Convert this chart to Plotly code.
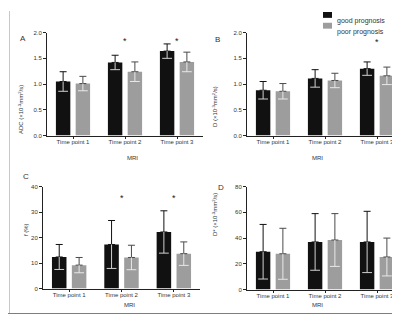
import plotly.graph_objects as go

# ---------------- data ----------------
categories = ["Time point 1", "Time point 2", "Time point 3"]
series_names = ["good prognosis", "poor prognosis"]

adc_good = [1.05, 1.42, 1.64]
adc_good_sd = [0.19, 0.14, 0.14]
adc_poor = [1.01, 1.24, 1.43]
adc_poor_sd = [0.14, 0.19, 0.19]

d_good = [0.88, 1.11, 1.30]
d_good_sd = [0.17, 0.17, 0.13]
d_poor = [0.86, 1.07, 1.16]
d_poor_sd = [0.15, 0.14, 0.17]

f_good = [12.4, 17.3, 22.2]
f_good_sd = [4.9, 9.4, 8.3]
f_poor = [9.2, 12.2, 13.7]
f_poor_sd = [3.0, 4.8, 4.6]

dstar_good = [29.4, 37.0, 37.0]
dstar_good_sd = [21.2, 22.0, 23.8]
dstar_poor = [27.8, 38.5, 25.3]
dstar_poor_sd = [19.8, 20.5, 14.7]

sig_adc = ["", "*", "*"]
sig_d = ["", "", "*"]
sig_f = ["", "*", "*"]
sig_dstar = ["", "", ""]

panel_letters = ["A", "B", "C", "D"]
y_titles = [
    "ADC (×10<sup>-3</sup>mm<sup>2</sup>/s)",
    "D (×10<sup>-3</sup>mm<sup>2</sup>/s)",
    "f (%)",
    "D* (×10<sup>-3</sup>mm<sup>2</sup>/s)",
]
y_ranges = [[0, 2.0], [0, 2.0], [0, 40], [0, 80]]
y_dticks = [0.5, 0.5, 10, 20]
y_formats = [".1f", ".1f", "d", "d"]
sig_levels = [1.83, 1.81, 35.5, 70]
x_title = "MRI"

# ---------------- layout helpers ----------------
W, H = 400, 314
def px(x):
    return x / W
def py(y):
    return 1 - y / H

# pixel boxes: (left, right, top, bottom)
boxes = [(39, 195, 22, 127), (239, 395, 22, 127), (35, 192, 179, 283), (239, 395, 179, 284)]
letter_pos = [(10, 21), (209, 22), (13, 169), (213, 180)]
ytitle_pos = [(7, 74), (207, 74), (13, 232), (207, 231)]
mri_y = [150, 150, 305, 305]

good_col = "#111111"
poor_col = "#9d9d9d"
font_fam = "Liberation Sans, Arial, sans-serif"
txt_col = "#333333"

panels = [
    (adc_good, adc_good_sd, adc_poor, adc_poor_sd, sig_adc),
    (d_good, d_good_sd, d_poor, d_poor_sd, sig_d),
    (f_good, f_good_sd, f_poor, f_poor_sd, sig_f),
    (dstar_good, dstar_good_sd, dstar_poor, dstar_poor_sd, sig_dstar),
]

fig = go.Figure()
annotations = []
shapes = []

for i, (g, gsd, p, psd, sig) in enumerate(panels):
    sfx = "" if i == 0 else str(i + 1)
    xa, ya = "x" + sfx, "y" + sfx
    for name, vals, sd, col, ecol, lcol in [
        (series_names[0], g, gsd, good_col, "#111111", "#d0d0d0"),
        (series_names[1], p, psd, poor_col, "#4a4a4a", "#e8e8e8"),
    ]:
        fig.add_trace(go.Bar(
            x=categories, y=vals, name=name, xaxis=xa, yaxis=ya,
            marker=dict(color=col, line=dict(width=0)),
            offsetgroup=name, alignmentgroup=str(i),
            error_y=dict(type="data", symmetric=False, array=sd,
                         arrayminus=[0] * len(sd), color=ecol,
                         thickness=1, width=3.5),
            showlegend=False,
        ))
        low = [v - s for v, s in zip(vals, sd)]
        fig.add_trace(go.Scatter(
            x=categories, y=low, xaxis=xa, yaxis=ya, mode="markers",
            offsetgroup=name, alignmentgroup=str(i),
            marker=dict(symbol="line-ew", size=7, color=lcol,
                        line=dict(color=lcol, width=1)),
            error_y=dict(type="data", symmetric=False,
                         array=[v - l for v, l in zip(vals, low)],
                         arrayminus=[0] * len(sd), color=lcol,
                         thickness=1, width=0),
            showlegend=False, hoverinfo="skip",
        ))
    for c, s in zip(categories, sig):
        if s:
            annotations.append(dict(x=c, y=sig_levels[i], xref=xa, yref=ya, text=s,
                                    showarrow=False, font=dict(size=9, color="#222222"),
                                    yanchor="middle"))
    l, r, t, b = boxes[i]
    key = "" if i == 0 else str(i + 1)
    fig.layout["xaxis" + key] = dict(
        domain=[px(l), px(r)], anchor=ya, type="category", range=[-0.5, 2.5],
        showline=True, linecolor="#222", linewidth=1, ticks="outside", ticklen=2,
        tickcolor="#222", tickfont=dict(size=6, color=txt_col, family=font_fam),
        ticklabelstandoff=-2,
        showgrid=False, zeroline=False, fixedrange=True,
    )
    fig.layout["yaxis" + key] = dict(
        domain=[py(b), py(t)], anchor=xa, range=y_ranges[i], dtick=y_dticks[i],
        tick0=0, tickformat=y_formats[i],
        showline=True, linecolor="#222", linewidth=1, ticks="outside", ticklen=3,
        tickcolor="#222", tickfont=dict(size=6, color=txt_col, family=font_fam),
        showgrid=False, zeroline=False, fixedrange=True,
    )
    lx, ly = letter_pos[i]
    annotations.append(dict(x=px(lx), y=py(ly), xref="paper", yref="paper",
                            text=panel_letters[i], showarrow=False,
                            font=dict(size=8, color=txt_col, family=font_fam)))
    tx, ty = ytitle_pos[i]
    annotations.append(dict(x=px(tx), y=py(ty), xref="paper", yref="paper",
                            text=y_titles[i], textangle=-90, showarrow=False,
                            font=dict(size=6, color=txt_col, family=font_fam)))
    annotations.append(dict(x=px((l + r) / 2), y=py(mri_y[i]), xref="paper", yref="paper",
                            text=x_title, showarrow=False,
                            font=dict(size=6, color=txt_col, family=font_fam)))

# manual legend
leg_rows = [(series_names[0], good_col, 4), (series_names[1], poor_col, 15)]
for name, col, yy in leg_rows:
    shapes.append(dict(type="rect", xref="paper", yref="paper",
                       x0=px(315), x1=px(324), y0=py(yy + 3), y1=py(yy - 3),
                       fillcolor=col, line=dict(width=0)))
    annotations.append(dict(x=px(327), y=py(yy), xref="paper", yref="paper",
                            text=name, showarrow=False, xanchor="left",
                            font=dict(size=7, color=txt_col, family=font_fam)))

# frame artifacts from the scanned figure
shapes.append(dict(type="rect", xref="paper", yref="paper", x0=0, x1=1,
                   y0=0, y1=py(308), fillcolor="#7d7d7d", line=dict(width=0)))
shapes.append(dict(type="line", xref="paper", yref="paper", x0=px(1.5), x1=px(1.5),
                   y0=py(308), y1=1, line=dict(color="#c8c8c8", width=1), layer="below"))
shapes.append(dict(type="line", xref="paper", yref="paper", x0=px(399), x1=px(399),
                   y0=py(160), y1=1, line=dict(color="#d0d0d0", width=1), layer="below"))

fig.update_layout(
    width=W, height=H, autosize=False,
    margin=dict(l=0, r=0, t=0, b=0),
    paper_bgcolor="white", plot_bgcolor="white",
    barmode="group", bargap=0.24, bargroupgap=0.27,
    scattermode="group", scattergap=0.24,
    annotations=annotations, shapes=shapes,
    font=dict(family=font_fam, color=txt_col),
    showlegend=False,
)

fig.write_html("out.html")
